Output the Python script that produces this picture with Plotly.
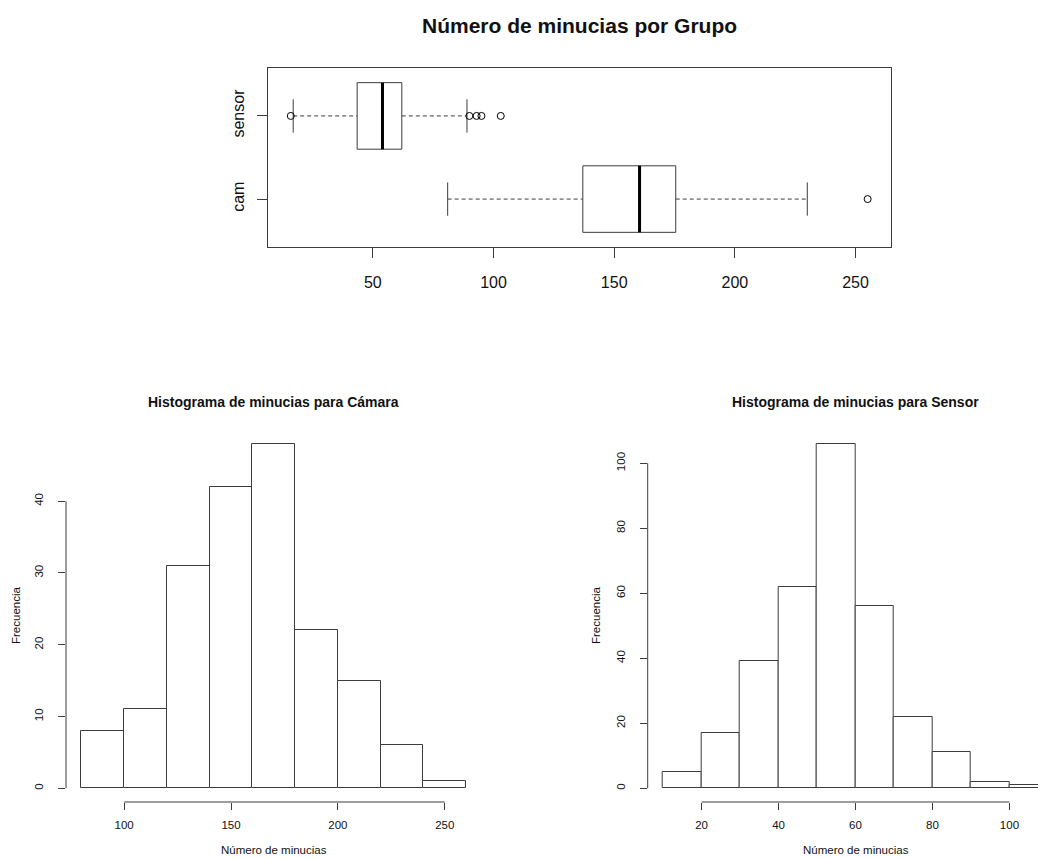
import plotly.graph_objects as go

# ---------------- data ----------------
groups = ["cam", "sensor"]
group_pos = [1, 2]
q1 = [137, 43.5]
medians = [160.5, 54]
q3 = [175.5, 62]
whisker_lo = [81, 17]
whisker_hi = [230, 89]
outliers = [[255], [16, 90, 93, 95, 103]]
box_ticks = [50, 100, 150, 200, 250]

cam_breaks = [80, 100, 120, 140, 160, 180, 200, 220, 240, 260]
cam_counts = [8, 11, 31, 42, 48, 22, 15, 6, 1]
cam_xticks = [100, 150, 200, 250]
cam_yticks = [0, 10, 20, 30, 40]

sensor_breaks = [10, 20, 30, 40, 50, 60, 70, 80, 90, 100, 110]
sensor_counts = [5, 17, 39, 62, 106, 56, 22, 11, 2, 1]
sensor_xticks = [20, 40, 60, 80, 100]
sensor_yticks = [0, 20, 40, 60, 80, 100]

# ---------------- style ----------------
W, H = 1038, 858
FONT = "Liberation Sans, Arial, Helvetica, sans-serif"
LINE = "#3c3c3c"
TXT = "#111111"


def px_x(v):
    return v / W


def px_y(v):
    return 1 - v / H


fig = go.Figure()

# ---------------- boxplot ----------------
half = 0.4
for i, g in enumerate(groups):
    c = group_pos[i]
    # box
    fig.add_trace(go.Scatter(
        x=[q1[i], q3[i], q3[i], q1[i], q1[i]],
        y=[c - half, c - half, c + half, c + half, c - half],
        mode="lines", fill="toself", fillcolor="white",
        line=dict(color=LINE, width=1), xaxis="x", yaxis="y",
        showlegend=False, hoverinfo="skip"))
    # whiskers
    for a, b in ((whisker_lo[i], q1[i]), (q3[i], whisker_hi[i])):
        fig.add_trace(go.Scatter(
            x=[a, b], y=[c, c], mode="lines",
            line=dict(color=LINE, width=1, dash="4px,3px"),
            xaxis="x", yaxis="y", showlegend=False, hoverinfo="skip"))
    # staples
    for w in (whisker_lo[i], whisker_hi[i]):
        fig.add_trace(go.Scatter(
            x=[w, w], y=[c - half / 2, c + half / 2], mode="lines",
            line=dict(color=LINE, width=1),
            xaxis="x", yaxis="y", showlegend=False, hoverinfo="skip"))
    # median
    fig.add_trace(go.Scatter(
        x=[medians[i], medians[i]], y=[c - half, c + half], mode="lines",
        line=dict(color="black", width=3),
        xaxis="x", yaxis="y", showlegend=False, hoverinfo="skip"))
    # outliers
    fig.add_trace(go.Scatter(
        x=outliers[i], y=[c] * len(outliers[i]), mode="markers",
        marker=dict(symbol="circle-open", size=7, color="black",
                    line=dict(width=1, color="black")),
        xaxis="x", yaxis="y", showlegend=False, hoverinfo="skip"))

all_vals = [v for o in outliers for v in o] + whisker_lo + whisker_hi
lo, hi = min(all_vals), max(all_vals)
pad = 0.04 * (hi - lo)

# ---------------- histograms ----------------
def add_hist(breaks, counts, xa, ya):
    mids = [(breaks[k] + breaks[k + 1]) / 2 for k in range(len(counts))]
    widths = [breaks[k + 1] - breaks[k] for k in range(len(counts))]
    fig.add_trace(go.Bar(
        x=mids, y=counts, width=widths,
        marker=dict(color="white", line=dict(color=LINE, width=1)),
        xaxis=xa, yaxis=ya, showlegend=False, hoverinfo="skip"))


add_hist(cam_breaks, cam_counts, "x2", "y2")
add_hist(sensor_breaks, sensor_counts, "x3", "y3")

cam_xr = [cam_breaks[0] - 0.04 * (cam_breaks[-1] - cam_breaks[0]),
          cam_breaks[-1] + 0.04 * (cam_breaks[-1] - cam_breaks[0])]
cam_yr = [-0.04 * max(cam_counts), 1.04 * max(cam_counts)]
sen_full = [sensor_breaks[0] - 0.04 * (sensor_breaks[-1] - sensor_breaks[0]),
            sensor_breaks[-1] + 0.04 * (sensor_breaks[-1] - sensor_breaks[0])]
sen_yr = [-0.04 * max(sensor_counts), 1.04 * max(sensor_counts)]

# right panel is cropped at the page edge
r_left, r_right_full = 647.7, 1063.3
scale = (sen_full[1] - sen_full[0]) / (r_right_full - r_left)
sen_xr = [sen_full[0], sen_full[0] + (W - r_left) * scale]

tickfont_b = dict(family=FONT, size=16, color=TXT)
tickfont_h = dict(family=FONT, size=11.5, color=TXT)

common_h = dict(showgrid=False, zeroline=False, showline=False,
                ticks="outside", ticklen=7, tickcolor=LINE, tickwidth=1,
                tickfont=tickfont_h)

fig.update_layout(
    width=W, height=H,
    margin=dict(l=0, r=0, t=0, b=0),
    paper_bgcolor="white", plot_bgcolor="white",
    bargap=0,
    xaxis=dict(domain=[px_x(267.7), px_x(890.7)], range=[lo - pad, hi + pad],
               anchor="y", tickvals=box_ticks, showgrid=False, zeroline=False,
               showline=True, mirror=True, linecolor=LINE, linewidth=1,
               ticks="outside", ticklen=10, tickcolor=LINE, tickfont=tickfont_b,
               ticklabelstandoff=10),
    yaxis=dict(domain=[px_y(247.3), px_y(67.7)], range=[0.42, 2.58],
               anchor="x", tickvals=group_pos, ticktext=groups, tickangle=-90,
               showgrid=False, zeroline=False, showline=True, mirror=True,
               linecolor=LINE, linewidth=1, ticks="outside", ticklen=10,
               tickcolor=LINE, tickfont=tickfont_b, ticklabelstandoff=6),
    xaxis2=dict(domain=[px_x(66), px_x(481.5)], range=cam_xr, anchor="y2",
                tickvals=cam_xticks, ticklabelstandoff=5, **common_h),
    yaxis2=dict(domain=[px_y(802), px_y(430)], range=cam_yr, anchor="x2",
                tickvals=cam_yticks, tickangle=-90, ticklabelstandoff=10,
                **common_h),
    xaxis3=dict(domain=[px_x(r_left), 1.0], range=sen_xr, anchor="y3",
                tickvals=sensor_xticks, ticklabelstandoff=5, **common_h),
    yaxis3=dict(domain=[px_y(802), px_y(430)], range=sen_yr, anchor="x3",
                tickvals=sensor_yticks, tickangle=-90, ticklabelstandoff=10,
                **common_h),
)

# axis lines spanning only the tick range (R style)
for xa, ya, xt, yt in (("x2", "y2", cam_xticks, cam_yticks),
                       ("x3", "y3", sensor_xticks, sensor_yticks)):
    fig.add_shape(type="line", xref=xa, yref=ya + " domain",
                  x0=xt[0], x1=xt[-1], y0=0, y1=0,
                  line=dict(color=LINE, width=1))
    fig.add_shape(type="line", xref=xa + " domain", yref=ya,
                  x0=0, x1=0, y0=yt[0], y1=yt[-1],
                  line=dict(color=LINE, width=1))

# titles
ann = [
    dict(text="<b>Número de minucias por Grupo</b>", x=px_x(579.2), y=px_y(26),
         font=dict(family=FONT, size=21, color=TXT)),
    dict(text="<b>Histograma de minucias para Cámara</b>", x=px_x(273.7), y=px_y(401.7),
         font=dict(family=FONT, size=14, color=TXT)),
    dict(text="<b>Histograma de minucias para Sensor</b>", x=px_x(855.5), y=px_y(401.7),
         font=dict(family=FONT, size=14, color=TXT)),
    dict(text="Número de minucias", x=px_x(273.7), y=px_y(850),
         font=dict(family=FONT, size=11.5, color=TXT)),
    dict(text="Número de minucias", x=px_x(855.5), y=px_y(850),
         font=dict(family=FONT, size=11.5, color=TXT)),
    dict(text="Frecuencia", x=px_x(16), y=px_y(616), textangle=-90,
         font=dict(family=FONT, size=11.5, color=TXT)),
    dict(text="Frecuencia", x=px_x(596), y=px_y(616), textangle=-90,
         font=dict(family=FONT, size=11.5, color=TXT)),
]
for a in ann:
    fig.add_annotation(xref="paper", yref="paper", showarrow=False,
                       xanchor="center", yanchor="middle", borderpad=0, **a)

fig.write_html(
    "out.html",
    config={"displayModeBar": False},
    post_script="document.body.style.margin='0';"
                "document.body.style.padding='0';"
                "document.body.style.overflow='hidden';",
)
